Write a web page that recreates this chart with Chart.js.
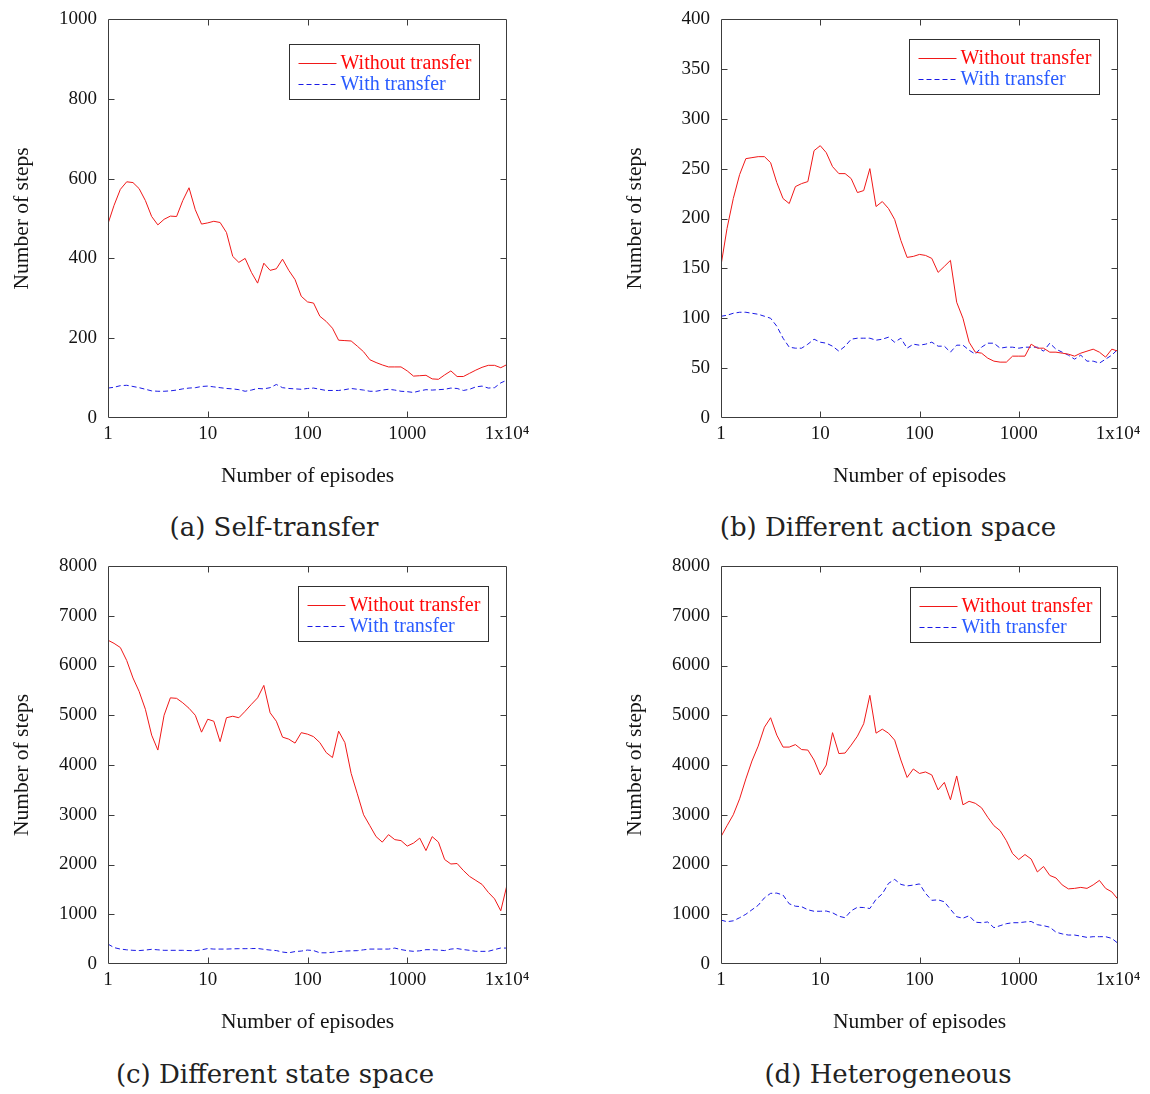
<!DOCTYPE html>
<html>
<head>
<meta charset="utf-8">
<script src="https://cdn.jsdelivr.net/npm/chart.js@4.4.1/dist/chart.umd.min.js"></script>
<style>
  body { margin: 0; background: #fff; }
  #page { position: relative; width: 1150px; height: 1094px; overflow: hidden; }
  #page canvas { position: absolute; }
  .caption {
    position: absolute; transform: translate(-50%, -50%); white-space: nowrap;
    font-family: "DejaVu Serif", serif; font-size: 26px; color: #222;
  }
</style>
</head>
<body>
<div id="page">
  <canvas id="chart-a"></canvas>
  <canvas id="chart-b"></canvas>
  <canvas id="chart-c"></canvas>
  <canvas id="chart-d"></canvas>
  <div class="caption" style="left:274px; top:527px">(a) Self-transfer</div>
  <div class="caption" style="left:888px; top:527px">(b) Different action space</div>
  <div class="caption" style="left:275px; top:1074px">(c) Different state space</div>
  <div class="caption" style="left:888px; top:1074px">(d) Heterogeneous</div>
</div>
<script>
// episode grid shared by every curve (16 points per decade)
const episodes = [1, 1.15, 1.33, 1.54, 1.78, 2.05, 2.37, 2.74, 3.16, 3.65, 4.22, 4.87, 5.62, 6.49, 7.5, 8.66,
  10, 11.5, 13.3, 15.4, 17.8, 20.5, 23.7, 27.4, 31.6, 36.5, 42.2, 48.7, 56.2, 64.9, 75, 86.6,
  100, 115, 133, 154, 178, 205, 237, 274, 316, 365, 422, 487, 562, 649, 750, 866,
  1000, 1155, 1334, 1540, 1778, 2054, 2371, 2738, 3162, 3652, 4217, 4870, 5623, 6494, 7499, 8660, 10000];

const seriesLabels = ['Without transfer', 'With transfer'];
const xTickValues = [1, 10, 100, 1000, 10000];
const xTickLabels = ['1', '10', '100', '1000', '1x10\u2074'];

// (a) Self-transfer
const selfWithout = [487, 533, 573, 592, 590, 575, 545, 505, 484, 498,
  506, 505, 545, 577, 522, 486, 489, 493, 490, 465,
  405, 390, 400, 365, 338, 388, 370, 374, 398, 370,
  347, 305, 291, 288, 255, 242, 225, 195, 194, 193,
  180, 166, 146, 139, 133, 128, 128, 128, 118, 105,
  106, 107, 98, 97, 108, 118, 104, 104, 112, 120,
  127, 132, 132, 126, 134];
const selfWith = [75, 77, 81, 82, 79, 76, 72, 68, 67, 67,
  68, 70, 73, 75, 76, 79, 80, 78, 76, 74,
  73, 71, 67, 70, 74, 73, 76, 84, 76, 74,
  73, 72, 74, 75, 72, 69, 69, 69, 71, 74,
  72, 70, 67, 67, 70, 72, 70, 67, 66, 64,
  68, 71, 70, 71, 72, 75, 74, 69, 72, 78,
  80, 75, 76, 88, 95];

// (b) Different action space
const actionWithout = [153, 190, 220, 244, 260, 261, 262, 262, 256, 236,
  220, 215, 232, 235, 237, 268, 273, 266, 252, 245,
  245, 240, 226, 228, 250, 212, 217, 210, 199, 178,
  161, 162, 164, 163, 160, 146, 152, 158, 116, 100,
  76, 66, 65, 60, 57, 56, 56, 62, 62, 62,
  74, 70, 70, 66, 66, 65, 64, 62, 65, 67,
  69, 66, 61, 69, 67];
const actionWith = [102, 103, 105, 106, 106, 105, 104, 102, 100, 92,
  80, 71, 70, 70, 74, 79, 76, 75, 72, 67,
  72, 79, 80, 80, 80, 78, 79, 81, 76, 80,
  70, 74, 73, 74, 76, 72, 72, 66, 73, 73,
  68, 64, 71, 75, 75, 70, 71, 71, 70, 71,
  71, 71, 67, 75, 69, 66, 63, 59, 63, 57,
  57, 55, 59, 63, 69];

// (c) Different state space
const stateWithout = [6508, 6445, 6361, 6100, 5750, 5480, 5120, 4600, 4300, 5000,
  5350, 5340, 5250, 5140, 5000, 4660, 4920, 4880, 4470, 4950,
  4980, 4950, 5080, 5220, 5350, 5600, 5050, 4880, 4560, 4520,
  4440, 4650, 4620, 4570, 4450, 4250, 4150, 4680, 4450, 3830,
  3420, 3000, 2780, 2560, 2450, 2600, 2500, 2480, 2370, 2430,
  2530, 2280, 2560, 2450, 2100, 2010, 2020, 1880, 1760, 1680,
  1600, 1440, 1310, 1070, 1590];
const stateWith = [400, 330, 300, 285, 275, 270, 280, 295, 285, 275,
  275, 275, 275, 270, 268, 285, 310, 300, 300, 300,
  305, 308, 308, 310, 312, 295, 280, 270, 240, 225,
  250, 260, 280, 270, 225, 225, 235, 250, 260, 265,
  268, 285, 300, 300, 300, 300, 320, 290, 268, 255,
  265, 288, 288, 280, 270, 300, 310, 290, 275, 255,
  254, 255, 290, 321, 320];

// (d) Heterogeneous
const heteroWithout = [2560, 2780, 3000, 3320, 3720, 4080, 4380, 4760, 4950, 4600,
  4360, 4360, 4410, 4310, 4300, 4100, 3800, 4000, 4650, 4230,
  4240, 4400, 4580, 4830, 5400, 4640, 4720, 4640, 4500, 4100,
  3750, 3920, 3830, 3860, 3800, 3500, 3650, 3300, 3780, 3200,
  3270, 3230, 3140, 2950, 2780, 2680, 2480, 2220, 2100, 2200,
  2110, 1850, 1960, 1780, 1730, 1590, 1510, 1520, 1540, 1520,
  1590, 1680, 1520, 1450, 1300];
const heteroWith = [883, 850, 868, 930, 1000, 1090, 1180, 1330, 1420, 1425,
  1385, 1210, 1162, 1152, 1090, 1060, 1060, 1065, 1030, 960,
  930, 1070, 1140, 1135, 1115, 1300, 1410, 1620, 1700, 1600,
  1570, 1586, 1610, 1420, 1280, 1290, 1250, 1100, 950, 920,
  970, 840, 830, 845, 730, 770, 810, 830, 830, 845,
  855, 790, 770, 740, 640, 605, 582, 582, 560, 535,
  549, 549, 549, 515, 415];

const RED = '#f01818';
const BLUE = '#1a1ae6';
const LEGEND_TEXT = ['#ff0a0a', '#2a5cff'];
const AXIS = '#3c3c3c';
const TEXT = '#141414';
const SERIF = '"Liberation Serif", "Times New Roman", serif';
const TICK_LEN = 6;

// box, inward ticks on all four sides and the boxed legend inside the plot
const frame = {
  id: 'frame',
  afterDatasetsDraw(chart, args, opts) {
    const {ctx, chartArea: a, scales: {x, y}} = chart;
    const L = Math.round(a.left) + 0.5, R = Math.round(a.right) - 0.5;
    const T = Math.round(a.top) + 0.5, B = Math.round(a.bottom) - 0.5;
    ctx.save();
    ctx.strokeStyle = AXIS;
    ctx.lineWidth = 1;
    ctx.setLineDash([]);
    ctx.beginPath();
    ctx.rect(L, T, R - L, B - T);
    x.ticks.forEach(t => {
      if (t.value <= x.min || t.value >= x.max) return;
      const px = Math.round(x.getPixelForValue(t.value)) + 0.5;
      ctx.moveTo(px, B); ctx.lineTo(px, B - TICK_LEN);
      ctx.moveTo(px, T); ctx.lineTo(px, T + TICK_LEN);
    });
    y.ticks.forEach(t => {
      if (t.value <= y.min || t.value >= y.max) return;
      const py = Math.round(y.getPixelForValue(t.value)) + 0.5;
      ctx.moveTo(L, py); ctx.lineTo(L + TICK_LEN, py);
      ctx.moveTo(R, py); ctx.lineTo(R - TICK_LEN, py);
    });
    ctx.stroke();

    // legend
    const bw = 190, bh = 55;
    const bx = Math.round(a.right - opts.right - bw) + 0.5;
    const by = Math.round(a.top + opts.top) + 0.5;
    ctx.fillStyle = '#fff';
    ctx.fillRect(bx, by, bw, bh);
    ctx.strokeStyle = '#303030';
    ctx.strokeRect(bx, by, bw, bh);
    ctx.font = '20px ' + SERIF;
    ctx.textBaseline = 'middle';
    chart.data.datasets.forEach((ds, i) => {
      const ly = Math.round(by + 18 + i * 21) + 0.5;
      ctx.strokeStyle = ds.borderColor;
      ctx.setLineDash(ds.borderDash || []);
      ctx.beginPath();
      ctx.moveTo(bx + 9, ly); ctx.lineTo(bx + 47, ly);
      ctx.stroke();
      ctx.fillStyle = LEGEND_TEXT[i];
      ctx.fillText(ds.label, bx + 51, ly);
    });
    ctx.restore();
  }
};

function points(values) {
  return values.map((v, i) => ({x: episodes[i], y: v}));
}

function makeChart(p) {
  const canvas = document.getElementById('chart-' + p.id);
  canvas.width = p.w;
  canvas.height = p.h;
  canvas.style.left = p.left + 'px';
  canvas.style.top = p.top + 'px';
  const [aL, aT, aR, aB] = p.area;
  return new Chart(canvas.getContext('2d'), {
    type: 'line',
    data: {
      datasets: [{
        label: seriesLabels[0],
        data: points(p.without),
        borderColor: RED,
        borderWidth: 1,
        pointRadius: 0,
        tension: 0,
      }, {
        label: seriesLabels[1],
        data: points(p.with),
        borderColor: BLUE,
        borderWidth: 1,
        borderDash: [5, 3],
        pointRadius: 0,
        tension: 0,
      }],
    },
    options: {
      responsive: false,
      animation: false,
      events: [],
      layout: { padding: { left: 0, top: aT, right: p.w - aR, bottom: 0 } },
      plugins: {
        legend: { display: false },
        tooltip: { enabled: false },
        frame: { right: p.legend[0], top: p.legend[1] },
      },
      scales: {
        x: {
          type: 'logarithmic',
          min: 1,
          max: 10000,
          grid: { display: false, drawTicks: false },
          border: { display: false },
          afterBuildTicks: s => { s.ticks = xTickValues.map(v => ({value: v})); },
          afterFit: s => {
            s.height = p.h - aB;
            s.paddingLeft = 0;
            s.paddingRight = 0;
          },
          ticks: {
            autoSkip: false,
            maxRotation: 0,
            padding: 5,
            color: TEXT,
            font: { family: SERIF, size: 19 },
            callback: v => xTickLabels[xTickValues.indexOf(v)],
          },
          title: {
            display: true,
            text: 'Number of episodes',
            color: TEXT,
            font: { family: SERIF, size: 21.5 },
            padding: { top: 0, bottom: p.h - aB - 58 - 13 },
          },
        },
        y: {
          min: 0,
          max: p.yMax,
          grid: { display: false, drawTicks: false },
          border: { display: false },
          afterFit: s => {
            s.width = aL;
            s.paddingTop = 0;
            s.paddingBottom = 0;
          },
          ticks: {
            stepSize: p.yStep,
            padding: 11,
            color: TEXT,
            font: { family: SERIF, size: 19 },
            callback: v => String(v),
          },
          title: {
            display: true,
            text: 'Number of steps',
            color: TEXT,
            font: { family: SERIF, size: 21.5 },
            padding: { top: 9, bottom: 0 },
          },
        },
      },
    },
    plugins: [frame],
  });
}

[
  {id: 'a', left: 0, top: 0, w: 575, h: 510, area: [108, 19, 507, 418], yMax: 1000, yStep: 200,
   legend: [28, 25], without: selfWithout, with: selfWith},
  {id: 'b', left: 613, top: 0, w: 537, h: 510, area: [108, 19, 505, 418], yMax: 400, yStep: 50,
   legend: [19, 20], without: actionWithout, with: actionWith},
  {id: 'c', left: 0, top: 547, w: 575, h: 510, area: [108, 19, 507, 417], yMax: 8000, yStep: 1000,
   legend: [19, 20], without: stateWithout, with: stateWith},
  {id: 'd', left: 613, top: 547, w: 537, h: 510, area: [108, 19, 505, 417], yMax: 8000, yStep: 1000,
   legend: [18, 21], without: heteroWithout, with: heteroWith},
].forEach(makeChart);
</script>
</body>
</html>
